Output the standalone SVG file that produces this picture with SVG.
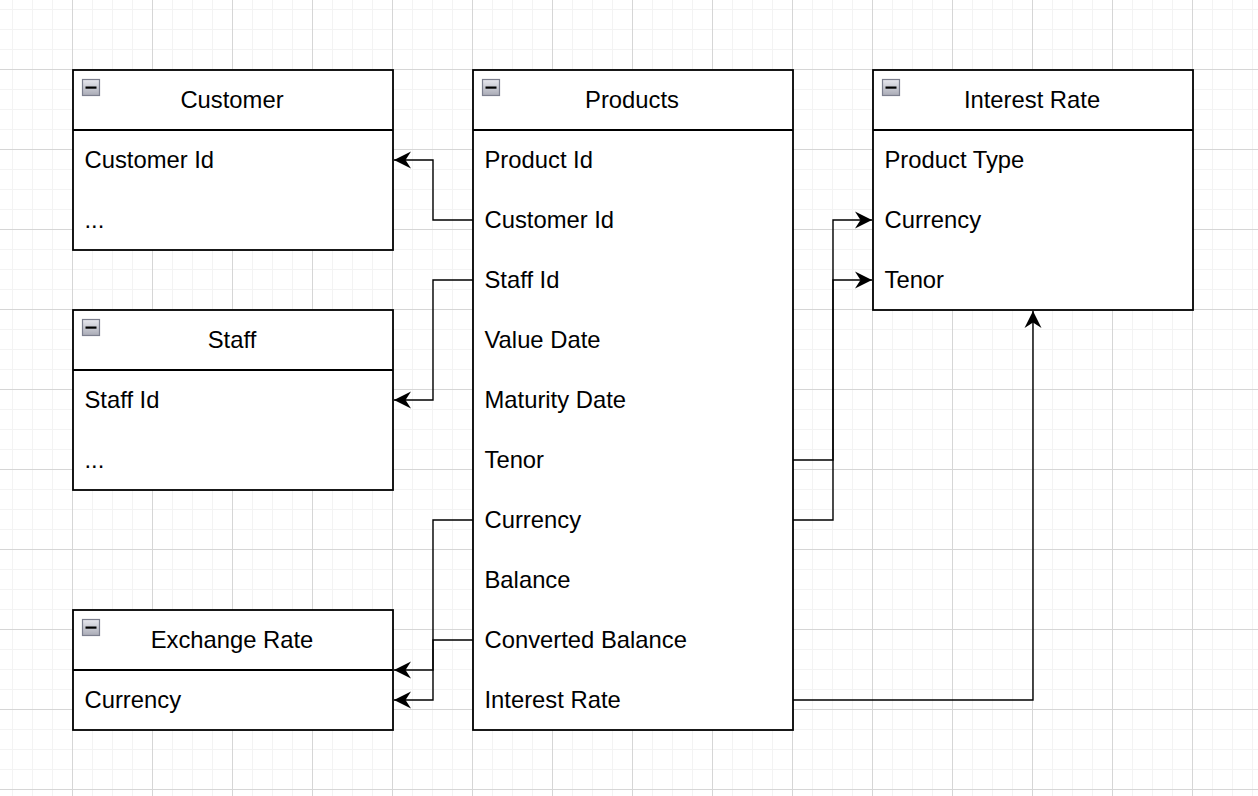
<svg xmlns="http://www.w3.org/2000/svg" width="1258" height="796" viewBox="0 0 1258 796">
<defs>
<pattern id="minor" patternUnits="userSpaceOnUse" x="12" y="9" width="20" height="20">
<rect x="0" y="0" width="1" height="20" fill="#f3f3f3"/>
<rect x="0" y="0" width="20" height="1" fill="#f3f3f3"/>
</pattern>
<pattern id="major" patternUnits="userSpaceOnUse" x="72" y="69" width="80" height="80">
<rect x="0" y="0" width="1" height="80" fill="#d6d6d6"/>
<rect x="0" y="0" width="80" height="1" fill="#d6d6d6"/>
</pattern>
<linearGradient id="ig" x1="0" y1="0" x2="0" y2="1">
<stop offset="0" stop-color="#e8e8ee"/>
<stop offset="1" stop-color="#a9abb6"/>
</linearGradient>
<marker id="arr" markerUnits="userSpaceOnUse" markerWidth="20" markerHeight="20" viewBox="-18 -10 20 20" refX="0" refY="0" orient="auto">
<path d="M-17,-8.5 L0,0 L-17,8.5 L-11.5,0 Z" fill="#000"/>
</marker>
<g id="icon">
<rect x="0.5" y="0.5" width="17" height="16" fill="url(#ig)" stroke="#7c7f8e" stroke-width="1.2"/>
<rect x="3.5" y="7.5" width="11" height="2.2" fill="#000"/>
</g>
</defs>
<style>
.box{fill:#fff;stroke:#000;stroke-width:1.8}
.sep{stroke:#000;stroke-width:1.8}
.t{font-family:"Liberation Sans",Arial,sans-serif;font-size:23.8px;fill:#000}
.h{text-anchor:middle}
.c{fill:none;stroke:#000;stroke-width:1.4;marker-end:url(#arr)}
</style>
<rect width="1258" height="796" fill="#fff"/>
<rect width="1258" height="796" fill="url(#minor)"/>
<rect width="1258" height="796" fill="url(#major)"/>

<g id="customer">
<rect class="box" x="73" y="70" width="320" height="180"/>
<line class="sep" x1="73" y1="130" x2="393" y2="130"/>
<use href="#icon" x="82" y="79"/>
<text class="t h" x="232" y="108">Customer</text>
<text class="t" x="84.5" y="168">Customer Id</text>
<text class="t" x="84.5" y="228">...</text>
</g>

<g id="staff">
<rect class="box" x="73" y="310" width="320" height="180"/>
<line class="sep" x1="73" y1="370" x2="393" y2="370"/>
<use href="#icon" x="82" y="319"/>
<text class="t h" x="232" y="348">Staff</text>
<text class="t" x="84.5" y="408">Staff Id</text>
<text class="t" x="84.5" y="468">...</text>
</g>

<g id="exchange-rate">
<rect class="box" x="73" y="610" width="320" height="120"/>
<line class="sep" x1="73" y1="670" x2="393" y2="670"/>
<use href="#icon" x="82" y="619"/>
<text class="t h" x="232" y="648">Exchange Rate</text>
<text class="t" x="84.5" y="708">Currency</text>
</g>

<g id="products">
<rect class="box" x="473" y="70" width="320" height="660"/>
<line class="sep" x1="473" y1="130" x2="793" y2="130"/>
<use href="#icon" x="482" y="79"/>
<text class="t h" x="632" y="108">Products</text>
<text class="t" x="484.5" y="168">Product Id</text>
<text class="t" x="484.5" y="228">Customer Id</text>
<text class="t" x="484.5" y="288">Staff Id</text>
<text class="t" x="484.5" y="348">Value Date</text>
<text class="t" x="484.5" y="408">Maturity Date</text>
<text class="t" x="484.5" y="468">Tenor</text>
<text class="t" x="484.5" y="528">Currency</text>
<text class="t" x="484.5" y="588">Balance</text>
<text class="t" x="484.5" y="648">Converted Balance</text>
<text class="t" x="484.5" y="708">Interest Rate</text>
</g>

<g id="interest-rate">
<rect class="box" x="873" y="70" width="320" height="240"/>
<line class="sep" x1="873" y1="130" x2="1193" y2="130"/>
<use href="#icon" x="882" y="79"/>
<text class="t h" x="1032" y="108">Interest Rate</text>
<text class="t" x="884.5" y="168">Product Type</text>
<text class="t" x="884.5" y="228">Currency</text>
<text class="t" x="884.5" y="288">Tenor</text>
</g>

<g id="connectors">
<path class="c" d="M473,220 H433 V160 H394"/>
<path class="c" d="M473,280 H433 V400 H394"/>
<path class="c" d="M473,520 H433 V700 H394"/>
<path class="c" d="M473,640 H433 V670 H394"/>
<path class="c" d="M793,460 H833 V280 H872"/>
<path class="c" d="M793,520 H833 V220 H872"/>
<path class="c" d="M793,700 H1033 V311"/>
</g>
</svg>
